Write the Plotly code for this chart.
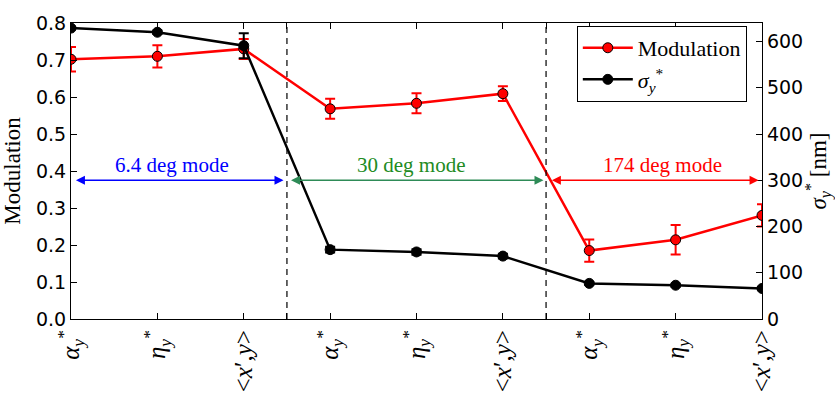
import plotly.graph_objects as go

# Category positions along the x axis (three modes, three quantities each)
positions = [0, 1, 2, 3, 4, 5, 6, 7, 8]
tick_labels = [
    "<i>α</i><sub><i>y</i></sub><sup>*</sup>",
    "<i>η</i><sub><i>y</i></sub><sup>*</sup>",
    "&lt;<i>x</i>′,<i>y</i>&gt;",
] * 3

# Modulation (left axis) with error bars
modulation = [0.702, 0.710, 0.730, 0.568, 0.583, 0.609, 0.185, 0.214, 0.280]
modulation_err = [0.033, 0.030, 0.027, 0.027, 0.027, 0.020, 0.030, 0.040, 0.030]

# sigma_y* in nm (right axis) with error bars
sigma_y = [629, 620, 591, 150, 145, 136, 77, 73, 66]
sigma_err = [3, 4, 27, 6, 6, 5, 3, 3, 3]

# Mode regions
mode_names = ["6.4 deg mode", "30 deg mode", "174 deg mode"]
mode_colors = ["#0000ff", "#2e8b57", "#ff0000"]
mode_text_colors = ["#0000ff", "#228b22", "#ff0000"]
mode_bounds = [2.5, 5.5]
arrow_starts = [0.04, 2.53, 5.55]
arrow_ends = [2.46, 5.47, 7.96]
label_x = [1.17, 3.94, 6.85]
arrow_level = 0.375
label_level = 0.415

serif = "Liberation Serif, Times New Roman, DejaVu Serif, serif"
sans = "DejaVu Sans"

fig = go.Figure()

fig.add_trace(go.Scatter(
    x=positions, y=modulation, name="Modulation",
    mode="lines+markers",
    line=dict(color="#ff0000", width=2.5),
    marker=dict(symbol="circle", size=10, color="#ff0000",
                line=dict(color="black", width=1)),
    error_y=dict(type="data", array=modulation_err, color="#ff0000",
                 thickness=2, width=5),
    yaxis="y",
))

fig.add_trace(go.Scatter(
    x=positions, y=sigma_y, name="<i>σ</i><sub><i>y</i></sub><sup>*</sup>",
    mode="lines+markers",
    line=dict(color="black", width=2.5),
    marker=dict(symbol="circle", size=10, color="black",
                line=dict(color="black", width=1)),
    error_y=dict(type="data", array=sigma_err, color="black",
                 thickness=2, width=5),
    yaxis="y2",
))

# Dashed boundaries between the modes
for xb in mode_bounds:
    fig.add_shape(type="line", xref="x", yref="paper", x0=xb, x1=xb, y0=0, y1=1,
                  line=dict(color="black", width=1.2, dash="6px,5px"))

# Double-headed arrows and mode labels
for name, c, tc, xs, xe, xl in zip(mode_names, mode_colors, mode_text_colors,
                                   arrow_starts, arrow_ends, label_x):
    fig.add_annotation(x=xe, y=arrow_level, ax=xs, ay=arrow_level,
                       xref="x", yref="y", axref="x", ayref="y",
                       text="", showarrow=True, arrowside="end+start",
                       arrowhead=2, arrowsize=1.2, arrowwidth=1.5, arrowcolor=c)
    fig.add_annotation(x=xl, y=label_level, xref="x", yref="y", text=name,
                       showarrow=False, font=dict(family=serif, size=21, color=tc))

fig.update_layout(
    width=835, height=404,
    margin=dict(l=68, r=72, t=15, b=84),
    paper_bgcolor="white", plot_bgcolor="white",
    showlegend=True,
    legend=dict(x=0.732, y=0.99, xanchor="left", yanchor="top",
                bgcolor="white", bordercolor="black", borderwidth=1,
                font=dict(family=serif, size=22, color="black"),
                itemwidth=50, tracegroupgap=2),
    xaxis=dict(
        range=[0, 8],
        tickvals=positions + mode_bounds,
        ticktext=tick_labels + ["", ""],
        tickangle=-90,
        tickfont=dict(family=serif, size=25, color="black"),
        ticks="inside", ticklen=6, tickcolor="black",
        showline=True, linecolor="black", linewidth=1.2, mirror="ticks",
        showgrid=False, zeroline=False,
    ),
    yaxis=dict(
        range=[0, 0.8], tickvals=[0, 0.1, 0.2, 0.3, 0.4, 0.5, 0.6, 0.7, 0.8],
        tickformat=".1f",
        tickfont=dict(family=sans, size=19, color="black"),
        ticks="inside", ticklen=6, tickcolor="black",
        showline=True, linecolor="black", linewidth=1.2,
        showgrid=False, zeroline=False,
        title=dict(text="Modulation", font=dict(family=serif, size=23, color="black"),
                   standoff=8),
    ),
    yaxis2=dict(
        range=[0, 640], tickvals=[0, 100, 200, 300, 400, 500, 600],
        overlaying="y", side="right",
        tickfont=dict(family=sans, size=19, color="black"),
        ticks="inside", ticklen=6, tickcolor="black",
        showline=True, linecolor="black", linewidth=1.2,
        showgrid=False, zeroline=False,
        title=dict(text="<i>σ</i><sub><i>y</i></sub><sup>*</sup> [nm]",
                   font=dict(family=serif, size=23, color="black"), standoff=4),
    ),
)

fig.write_html("out.html")
